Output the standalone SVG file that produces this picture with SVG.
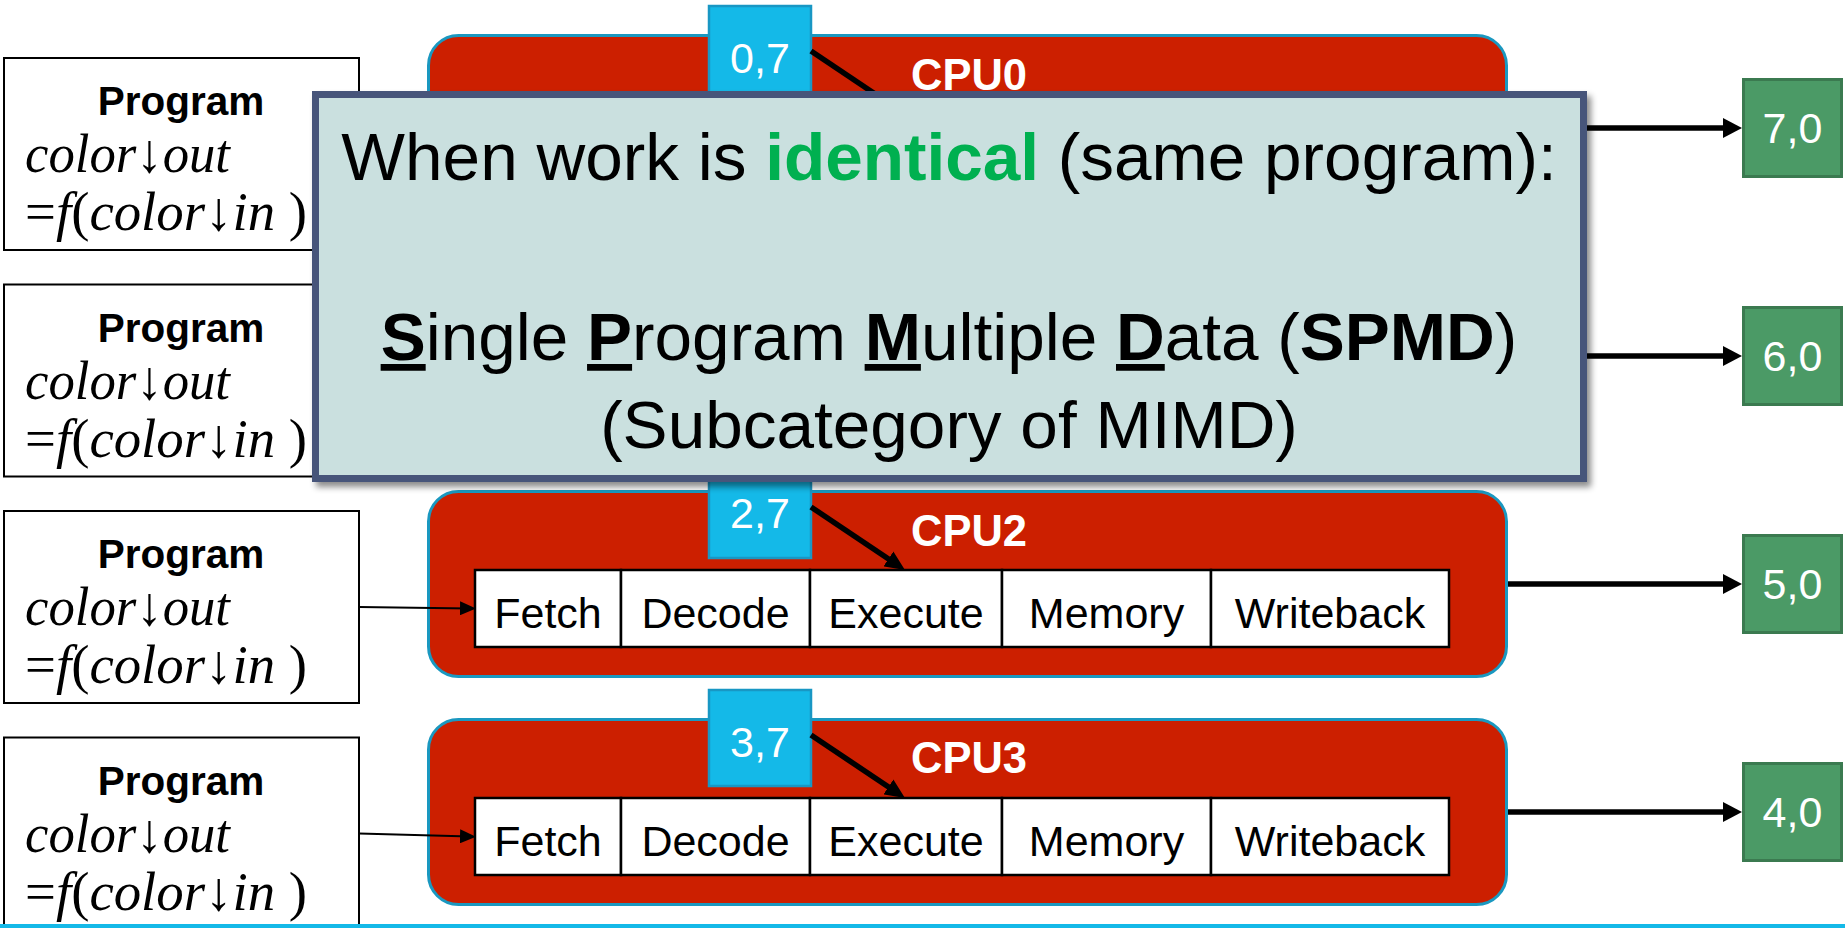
<svg xmlns="http://www.w3.org/2000/svg" width="1845" height="928" viewBox="0 0 1845 928">
  <defs>
    <style>
      .prog-box { fill: #ffffff; stroke: #000000; stroke-width: 2; }
      .prog-title { font-family: "Liberation Sans", Arial, sans-serif; font-weight: bold; font-size: 40.5px; fill: #000; text-anchor: middle; }
      .math { font-family: "Liberation Serif", "Times New Roman", serif; font-style: italic; font-size: 55px; fill: #000; }
      .up { font-style: normal; }
      .cpu { fill: #cc1f00; stroke: #1a98c0; stroke-width: 3; }
      .cpu-name { font-family: "Liberation Sans", Arial, sans-serif; font-weight: bold; font-size: 43.5px; fill: #ffffff; }
      .stage { fill: #ffffff; stroke: #000000; stroke-width: 2.5; }
      .stage-text { font-family: "Liberation Sans", Arial, sans-serif; font-size: 43px; fill: #000; text-anchor: middle; }
      .tag { fill: #14b9e8; stroke: #1897c4; stroke-width: 2.5; }
      .tag-text { font-family: "Liberation Sans", Arial, sans-serif; font-size: 43px; fill: #ffffff; text-anchor: middle; }
      .out { fill: #4b9a66; stroke: #3b7a50; stroke-width: 3; }
      .out-text { font-family: "Liberation Sans", Arial, sans-serif; font-size: 43px; fill: #ffffff; text-anchor: middle; }
      .wire-thick { stroke: #000; stroke-width: 5.5; fill: none; }
      .wire-thin { stroke: #000; stroke-width: 2; fill: none; }
      .callout { fill: #cae0df; stroke: #46557a; stroke-width: 7; }
      .callout-text { font-family: "Liberation Sans", Arial, sans-serif; font-size: 67.5px; fill: #000; text-anchor: middle; }
      .b { font-weight: bold; }
      .bu { font-weight: bold; text-decoration: underline; }
      .green { fill: #00b050; font-weight: bold; }
    </style>
    <marker id="headBig" markerUnits="userSpaceOnUse" markerWidth="19" markerHeight="20" refX="10" refY="10" orient="auto">
      <path d="M0,0 L19,10 L0,20 Z" fill="#000"/>
    </marker>
    <marker id="headDiag" markerUnits="userSpaceOnUse" markerWidth="20" markerHeight="18" refX="11" refY="9" orient="auto">
      <path d="M0,0 L20,9 L0,18 Z" fill="#000"/>
    </marker>
    <marker id="headSmall" markerUnits="userSpaceOnUse" markerWidth="16" markerHeight="14" refX="10" refY="7" orient="auto">
      <path d="M0,0 L16,7 L0,14 Z" fill="#000"/>
    </marker>
    <filter id="shadow" x="-5%" y="-5%" width="110%" height="115%">
      <feDropShadow dx="4" dy="5" stdDeviation="3" flood-color="#000" flood-opacity="0.45"/>
    </filter>
  </defs>

  <!-- program boxes -->
  <g id="program0">
    <rect class="prog-box" x="4" y="58" width="355" height="192"/>
    <text class="prog-title" x="181" y="115">Program</text>
    <text class="math" x="25" y="172" textLength="205" lengthAdjust="spacingAndGlyphs">color↓out</text>
    <text class="math" x="25" y="230" textLength="282" lengthAdjust="spacingAndGlyphs"><tspan class="up">=</tspan>f<tspan class="up">(</tspan>color↓in <tspan class="up">)</tspan></text>
  </g>
  <g id="program1">
    <rect class="prog-box" x="4" y="284.5" width="355" height="192"/>
    <text class="prog-title" x="181" y="341.5">Program</text>
    <text class="math" x="25" y="398.5" textLength="205" lengthAdjust="spacingAndGlyphs">color↓out</text>
    <text class="math" x="25" y="456.5" textLength="282" lengthAdjust="spacingAndGlyphs"><tspan class="up">=</tspan>f<tspan class="up">(</tspan>color↓in <tspan class="up">)</tspan></text>
  </g>
  <g id="program2">
    <rect class="prog-box" x="4" y="511" width="355" height="192"/>
    <text class="prog-title" x="181" y="568">Program</text>
    <text class="math" x="25" y="625" textLength="205" lengthAdjust="spacingAndGlyphs">color↓out</text>
    <text class="math" x="25" y="683" textLength="282" lengthAdjust="spacingAndGlyphs"><tspan class="up">=</tspan>f<tspan class="up">(</tspan>color↓in <tspan class="up">)</tspan></text>
  </g>
  <g id="program3">
    <rect class="prog-box" x="4" y="737.5" width="355" height="192"/>
    <text class="prog-title" x="181" y="794.5">Program</text>
    <text class="math" x="25" y="851.5" textLength="205" lengthAdjust="spacingAndGlyphs">color↓out</text>
    <text class="math" x="25" y="909.5" textLength="282" lengthAdjust="spacingAndGlyphs"><tspan class="up">=</tspan>f<tspan class="up">(</tspan>color↓in <tspan class="up">)</tspan></text>
  </g>

  <!-- processors -->
  <g id="cpu0">
    <rect class="cpu" x="428.5" y="35.5" width="1078" height="185" rx="30"/>
    <text class="cpu-name" x="911" y="90">CPU0</text>
  </g>
  <g id="cpu2">
    <rect class="cpu" x="428.5" y="491.5" width="1078" height="185" rx="30"/>
    <text class="cpu-name" x="911" y="546">CPU2</text>
    <rect class="stage" x="475" y="570" width="146" height="77"/>
    <rect class="stage" x="621" y="570" width="189" height="77"/>
    <rect class="stage" x="810" y="570" width="192" height="77"/>
    <rect class="stage" x="1002" y="570" width="209" height="77"/>
    <rect class="stage" x="1211" y="570" width="238" height="77"/>
    <text class="stage-text" x="548" y="628">Fetch</text>
    <text class="stage-text" x="715.5" y="628">Decode</text>
    <text class="stage-text" x="906" y="628">Execute</text>
    <text class="stage-text" x="1106.5" y="628">Memory</text>
    <text class="stage-text" x="1330" y="628">Writeback</text>
  </g>
  <g id="cpu3">
    <rect class="cpu" x="428.5" y="719.5" width="1078" height="185" rx="30"/>
    <text class="cpu-name" x="911" y="773">CPU3</text>
    <rect class="stage" x="475" y="798" width="146" height="77"/>
    <rect class="stage" x="621" y="798" width="189" height="77"/>
    <rect class="stage" x="810" y="798" width="192" height="77"/>
    <rect class="stage" x="1002" y="798" width="209" height="77"/>
    <rect class="stage" x="1211" y="798" width="238" height="77"/>
    <text class="stage-text" x="548" y="856">Fetch</text>
    <text class="stage-text" x="715.5" y="856">Decode</text>
    <text class="stage-text" x="906" y="856">Execute</text>
    <text class="stage-text" x="1106.5" y="856">Memory</text>
    <text class="stage-text" x="1330" y="856">Writeback</text>
  </g>

  <!-- pixel tags -->
  <g id="tag0">
    <rect class="tag" x="709" y="6" width="102" height="96"/>
    <text class="tag-text" x="760" y="73">0,7</text>
  </g>
  <g id="tag2">
    <rect class="tag" x="709" y="462" width="102" height="96"/>
    <text class="tag-text" x="760" y="528">2,7</text>
  </g>
  <g id="tag3">
    <rect class="tag" x="709" y="690" width="102" height="96"/>
    <text class="tag-text" x="760" y="757">3,7</text>
  </g>

  <!-- outputs -->
  <g id="out7">
    <rect class="out" x="1743.5" y="79.5" width="98" height="97"/>
    <text class="out-text" x="1792.5" y="143">7,0</text>
  </g>
  <g id="out6">
    <rect class="out" x="1743.5" y="307.5" width="98" height="97"/>
    <text class="out-text" x="1792.5" y="371">6,0</text>
  </g>
  <g id="out5">
    <rect class="out" x="1743.5" y="535.5" width="98" height="97"/>
    <text class="out-text" x="1792.5" y="599">5,0</text>
  </g>
  <g id="out4">
    <rect class="out" x="1743.5" y="763.5" width="98" height="97"/>
    <text class="out-text" x="1792.5" y="827">4,0</text>
  </g>

  <!-- connectors -->
  <g id="connectors">
    <line class="wire-thin" x1="359" y1="607" x2="470" y2="608.5" marker-end="url(#headSmall)"/>
    <line class="wire-thin" x1="359" y1="833.5" x2="470" y2="836.5" marker-end="url(#headSmall)"/>
    <line class="wire-thick" x1="811" y1="51" x2="897.5" y2="109" marker-end="url(#headDiag)"/>
    <line class="wire-thick" x1="811" y1="507" x2="897.5" y2="565" marker-end="url(#headDiag)"/>
    <line class="wire-thick" x1="811" y1="735" x2="897.5" y2="793" marker-end="url(#headDiag)"/>
    <line class="wire-thick" x1="1508" y1="128" x2="1733" y2="128" marker-end="url(#headBig)"/>
    <line class="wire-thick" x1="1508" y1="356" x2="1733" y2="356" marker-end="url(#headBig)"/>
    <line class="wire-thick" x1="1508" y1="584" x2="1733" y2="584" marker-end="url(#headBig)"/>
    <line class="wire-thick" x1="1508" y1="812" x2="1733" y2="812" marker-end="url(#headBig)"/>
  </g>

  <!-- SPMD callout -->
  <g id="callout">
    <rect class="callout" x="315.5" y="94.5" width="1268" height="384" filter="url(#shadow)"/>
    <text class="callout-text" x="949" y="180">When work is <tspan class="green">identical</tspan> (same program):</text>
    <text class="callout-text" x="949" y="360"><tspan class="bu">S</tspan>ingle <tspan class="bu">P</tspan>rogram <tspan class="bu">M</tspan>ultiple <tspan class="bu">D</tspan>ata (<tspan class="b">SPMD</tspan>)</text>
    <text class="callout-text" x="949" y="448">(Subcategory of MIMD)</text>
  </g>

  <!-- bottom rule -->
  <rect x="0" y="924" width="1845" height="4" fill="#14b9e8"/>
</svg>
